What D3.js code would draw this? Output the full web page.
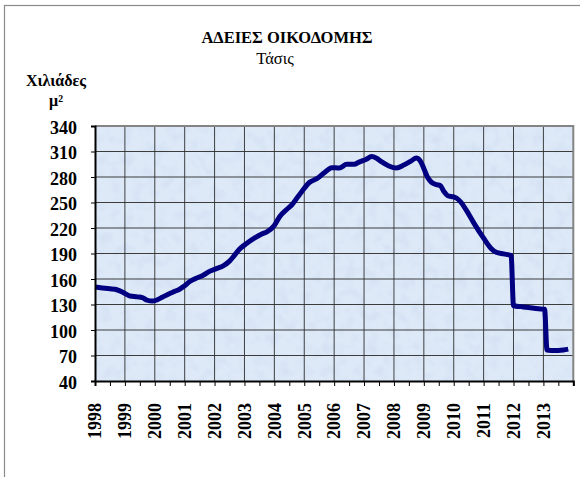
<!DOCTYPE html>
<html>
<head>
<meta charset="utf-8">
<script src="https://cdn.jsdelivr.net/npm/d3@7"></script>
<style>
  body { margin: 0; background: #fff; }
</style>
</head>
<body>
<div class="chart"></div>
<script>
// Building permits trend (thousand m2).
// t = decimal year, v = thousand m2
var times = [
  1998.00, 1998.25, 1998.50, 1998.67, 1998.83, 1999.00, 1999.17, 1999.42, 1999.58, 1999.75,
  1999.92, 2000.08, 2000.25, 2000.50, 2000.67, 2000.83, 2001.00, 2001.17, 2001.33, 2001.62,
  2001.83, 2002.08, 2002.29, 2002.50, 2002.67, 2002.83, 2003.08, 2003.33, 2003.58, 2003.75,
  2004.00, 2004.17, 2004.42, 2004.58, 2004.75, 2004.92, 2005.17, 2005.42, 2005.67, 2005.92,
  2006.17, 2006.42, 2006.67, 2006.83, 2007.08, 2007.25, 2007.42, 2007.58, 2007.83, 2008.08,
  2008.33, 2008.58, 2008.75, 2008.88, 2009.00, 2009.12, 2009.25, 2009.42, 2009.55, 2009.67,
  2009.80, 2010.00, 2010.10, 2010.25, 2010.42, 2010.67, 2011.00, 2011.25, 2011.42, 2011.67,
  2011.92, 2012.00, 2012.25, 2012.50, 2012.83, 2013.04, 2013.12, 2013.25, 2013.50, 2013.67,
  2013.83
]
var values = [
  150.5, 149.5, 148.5, 148, 146, 143, 140, 139, 138, 135,
  134, 135.5, 138.5, 143, 145.5, 148, 152, 157, 160, 164.5,
  169, 172.5, 175.5, 181, 188, 195, 202, 208, 213, 215.5,
  223, 233, 242, 247, 255, 263, 273.5, 278, 285, 291,
  290.5, 295, 295, 297.5, 301, 304, 302, 298, 293, 290.5,
  294, 299, 302.5, 299, 290, 280, 274, 271, 270, 263,
  258, 256.5, 255, 250, 241, 226, 208, 196, 191.5, 189.5,
  187.5, 128.5, 127.5, 126.5, 125, 124.5, 76.5, 76, 76, 76.5,
  77.5
]
var yTicks = [40, 70, 100, 130, 160, 190, 220, 250, 280, 310, 340]
var xYears = d3.range(1998, 2014)   // labelled years
var titleText = 'ΑΔΕΙΕΣ ΟΙΚΟΔΟΜΗΣ'
var subtitleText = 'Τάσις'
var unitLines = ['Χιλιάδες', 'μ²']

var FONT = '"Liberation Serif"'
var W = 580, H = 477
var plot = {left: 95, top: 126, right: 573.3, bottom: 381}

var svg = d3.select('.chart').append('svg').attr('width', W).attr('height', H)
  .attr('font-family', FONT)

// outer frame (only top/left visible in the crop)
svg.append('rect')
  .attr('x', 4.5).attr('y', 5.5).attr('width', W + 10).attr('height', H + 10)
  .attr('fill', 'none').attr('stroke', '#8a8a8a').attr('stroke-width', 1.2)

var x = d3.scaleLinear().domain([1998, 2014]).range([plot.left, plot.right])
var y = d3.scaleLinear().domain([40, 340]).range([plot.bottom, plot.top])

// panel background with a faint paper texture
var defs = svg.append('defs')
var filt = defs.append('filter').attr('id', 'tex').attr('x', 0).attr('y', 0).attr('width', 1).attr('height', 1)
filt.append('feTurbulence').attr('type', 'fractalNoise').attr('baseFrequency', 0.09).attr('numOctaves', 2).attr('seed', 3)
filt.append('feColorMatrix').attr('type', 'matrix')
  .attr('values', '0 0 0 0 0.55  0 0 0 0 0.65  0 0 0 0 0.85  0 0 0 -2.2 1.25')
filt.append('feComposite').attr('in2', 'SourceGraphic').attr('operator', 'in')

var pw = plot.right - plot.left, ph = plot.bottom - plot.top
svg.append('rect').attr('x', plot.left).attr('y', plot.top).attr('width', pw).attr('height', ph)
  .attr('fill', '#dde9f7')
svg.append('rect').attr('x', plot.left).attr('y', plot.top).attr('width', pw).attr('height', ph)
  .attr('fill', '#fff').attr('filter', 'url(#tex)').attr('opacity', 0.35)

// gridlines
var grid = svg.append('g').attr('class', 'grid')
grid.selectAll('line.h').data(yTicks.slice(1, -1)).join('line')
  .attr('x1', plot.left).attr('x2', plot.right).attr('y1', y).attr('y2', y)
  .attr('stroke', '#3c3c3c').attr('stroke-width', 1)
grid.selectAll('line.v').data(d3.range(1999, 2014)).join('line')
  .attr('y1', plot.top).attr('y2', plot.bottom).attr('x1', x).attr('x2', x)
  .attr('stroke', '#2e2e2e').attr('stroke-width', 0.9)

// top / right border (grey), axes (black)
svg.append('path')
  .attr('d', 'M' + plot.left + ',' + plot.top + 'H' + plot.right + 'V' + plot.bottom)
  .attr('fill', 'none').attr('stroke', '#848484').attr('stroke-width', 2)

// the trend line
var pts = times.map(function(t, i){ return {t: t, v: values[i]} })
var line = d3.line().x(function(d){ return x(d.t) }).y(function(d){ return y(d.v) })
  .curve(d3.curveMonotoneX)
svg.append('path').attr('d', line(pts))
  .attr('fill', 'none').attr('stroke', '#000080').attr('stroke-width', 5)
  .attr('stroke-linejoin', 'round').attr('stroke-linecap', 'butt')

// y axis
var yAxis = svg.append('g').attr('transform', 'translate(' + plot.left + ',0)')
  .call(d3.axisLeft(y).tickValues(yTicks).tickSize(4).tickPadding(14).tickFormat(d3.format('d')))
yAxis.attr('font-family', FONT)
yAxis.select('.domain').attr('stroke', '#000').attr('stroke-width', 2)
yAxis.selectAll('.tick line').attr('stroke', '#000').attr('stroke-width', 1)
yAxis.selectAll('.tick text')
  .attr('x', -18).attr('dy', '0.4em')
  .attr('font-family', FONT).attr('font-size', 18).attr('font-weight', 'bold')
  .attr('fill', '#000')

// x axis: ticks every half year, labels on whole years
var xAxis = svg.append('g').attr('transform', 'translate(0,' + plot.bottom + ')')
  .call(d3.axisBottom(x).tickValues(d3.range(1998, 2014.01, 0.5)).tickSize(5).tickFormat(''))
xAxis.select('.domain').attr('stroke', '#000').attr('stroke-width', 2)
xAxis.selectAll('.tick line').attr('stroke', '#000').attr('stroke-width', 1)

svg.append('g').selectAll('text').data(xYears).join('text')
  .attr('transform', function(d){ return 'translate(' + x(d) + ',403) rotate(-90)' })
  .attr('text-anchor', 'end').attr('dy', '0.35em')
  .attr('font-family', FONT).attr('font-size', 18).attr('font-weight', 'bold').attr('fill', '#000')
  .text(function(d){ return d })

// titles
svg.append('text').text(titleText)
  .attr('x', 287).attr('y', 43).attr('text-anchor', 'middle')
  .attr('font-family', FONT).attr('font-size', 16.5).attr('font-weight', 'bold').attr('fill', '#000')
svg.append('text').text(subtitleText)
  .attr('x', 275).attr('y', 64).attr('text-anchor', 'middle')
  .attr('font-family', FONT).attr('font-size', 16.5).attr('fill', '#000')

svg.append('text').text(unitLines[0])
  .attr('x', 56).attr('y', 86).attr('text-anchor', 'middle')
  .attr('font-family', FONT).attr('font-size', 16).attr('font-weight', 'bold').attr('fill', '#000')
svg.append('text').text(unitLines[1])
  .attr('x', 56).attr('y', 106).attr('text-anchor', 'middle')
  .attr('font-family', FONT).attr('font-size', 16).attr('font-weight', 'bold').attr('fill', '#000')
</script>
</body>
</html>
